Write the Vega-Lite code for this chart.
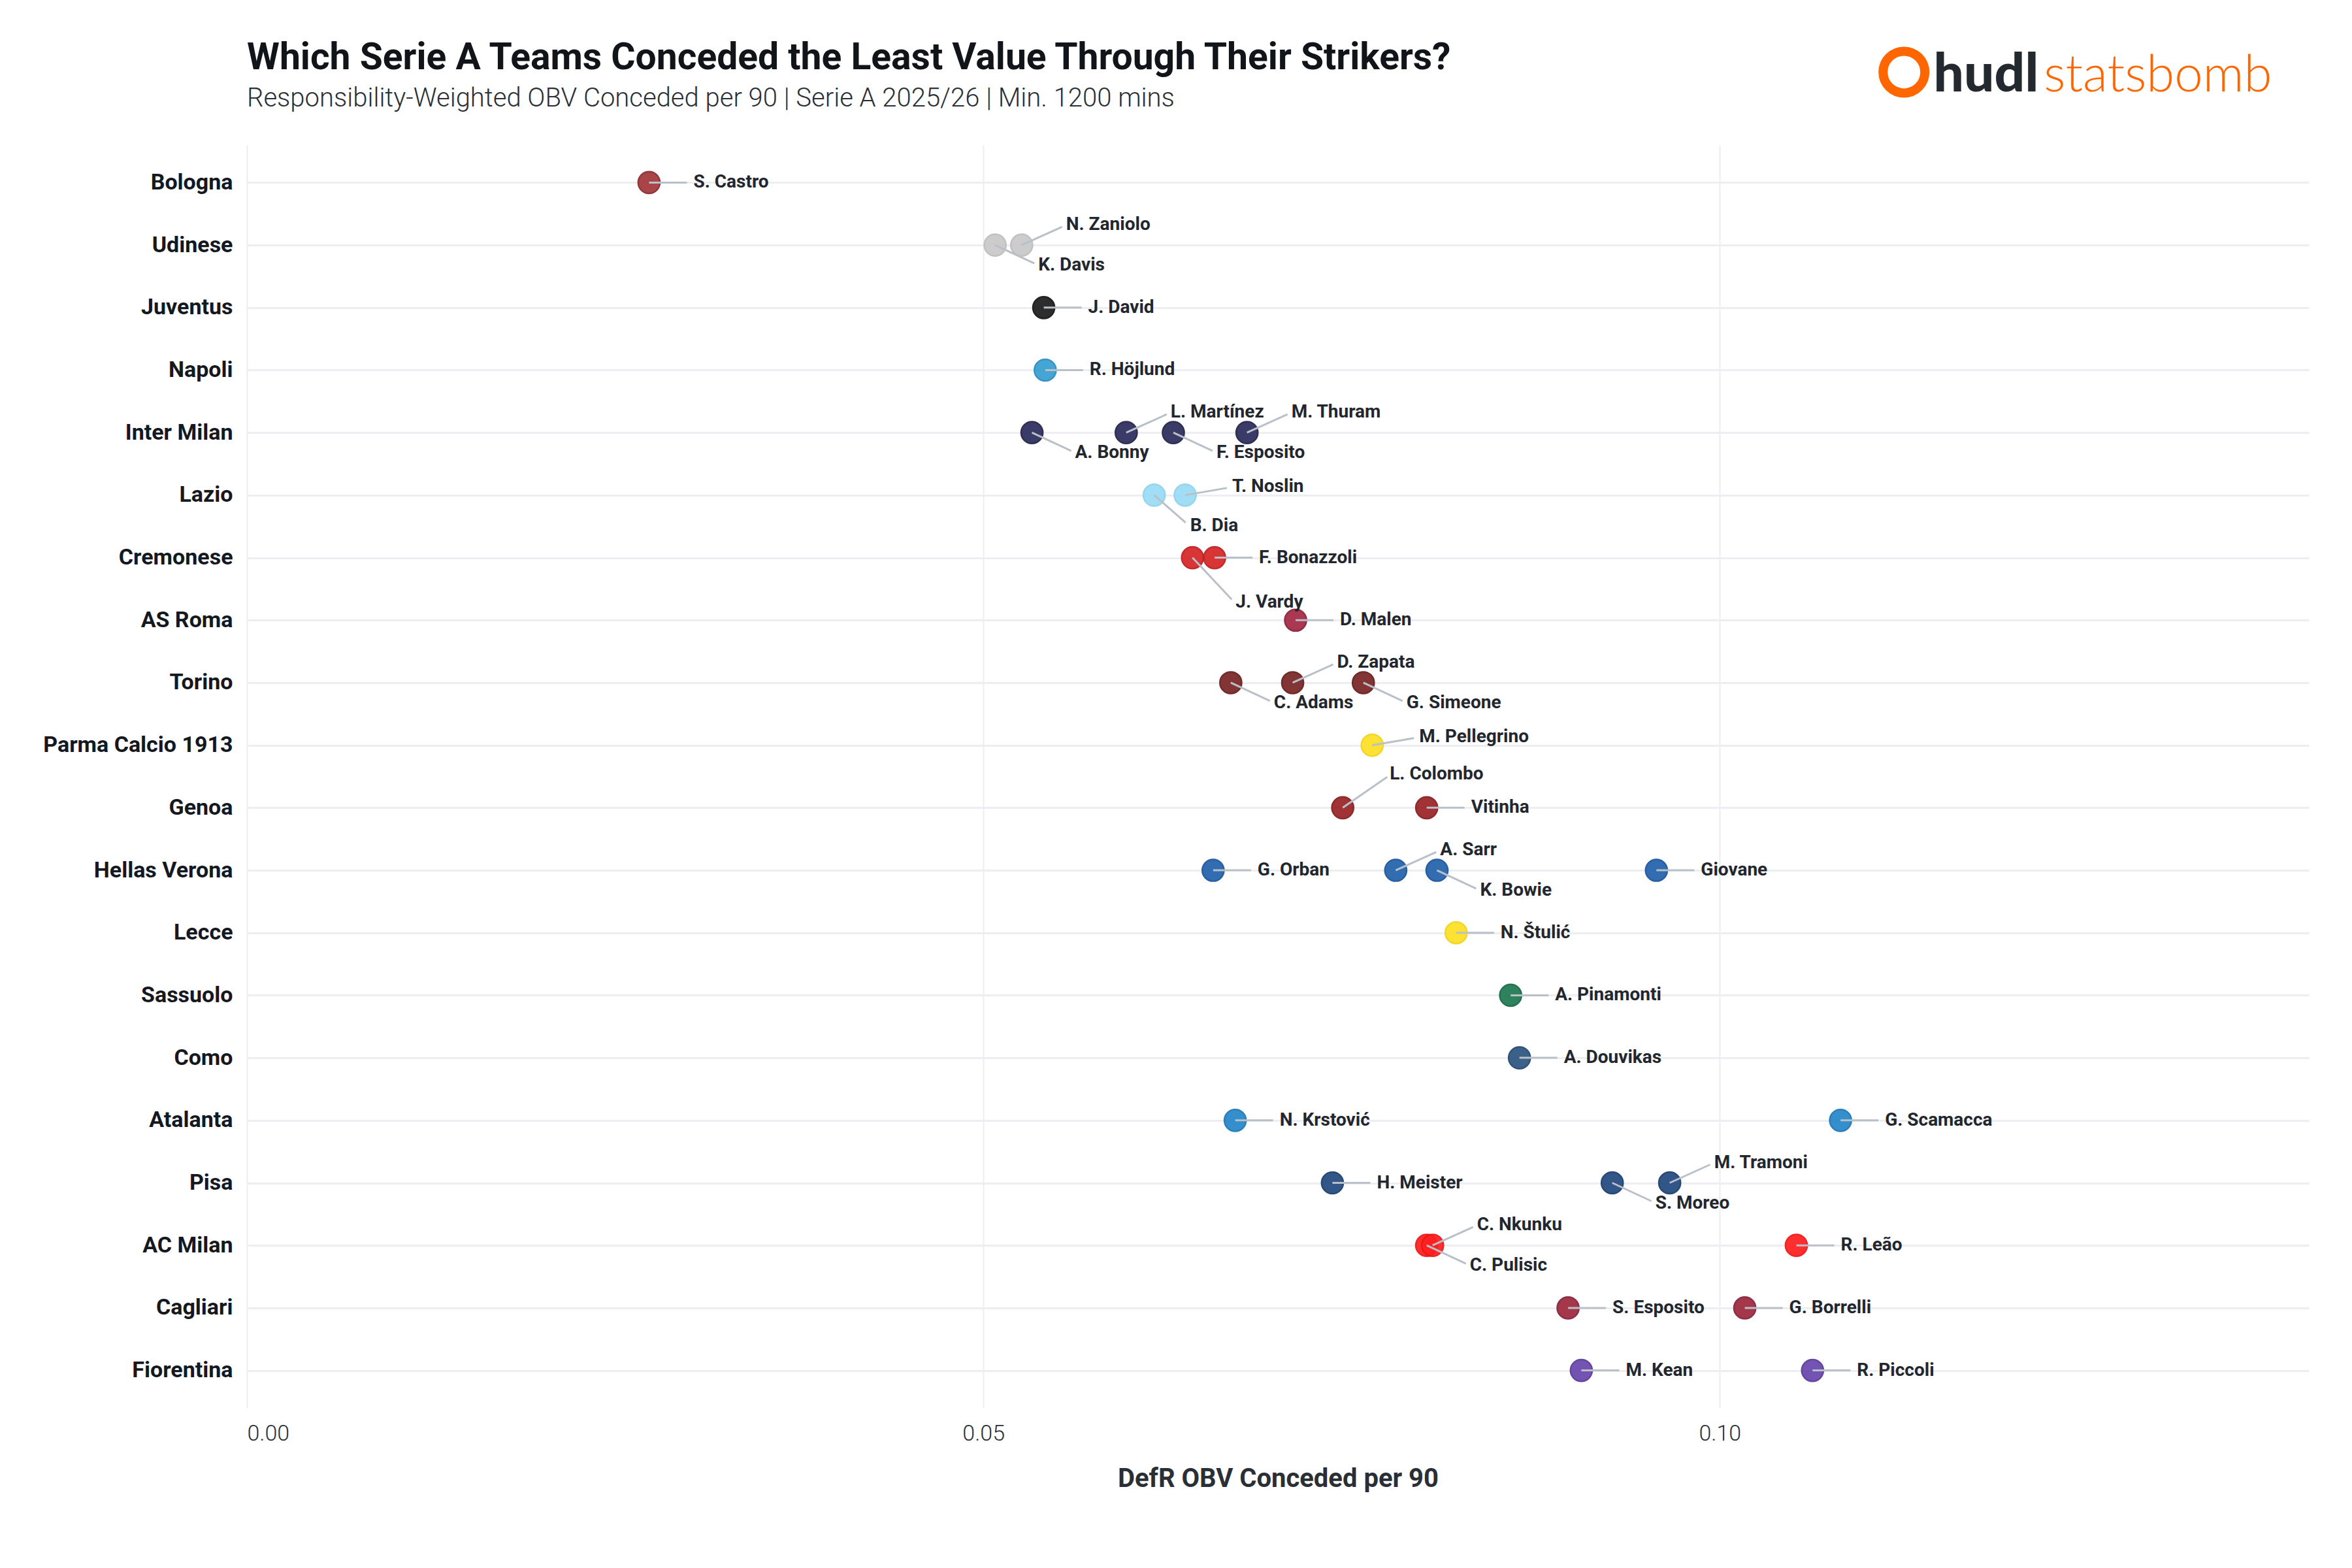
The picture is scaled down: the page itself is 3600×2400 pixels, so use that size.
{
  "$schema": "https://vega.github.io/schema/vega-lite/v6.json",
  "width": 3156,
  "height": 1933,
  "autosize": "none",
  "padding": {"left": 378, "top": 222, "right": 66, "bottom": 245},
  "background": "white",
  "title": {
    "text": "Which Serie A Teams Conceded the Least Value Through Their Strikers?",
    "subtitle": "Responsibility-Weighted OBV Conceded per 90 | Serie A 2025/26 | Min. 1200 mins",
    "anchor": "start",
    "frame": "group",
    "font": "Roboto",
    "fontSize": 57,
    "fontWeight": 700,
    "color": "#111418",
    "subtitleFont": "Roboto",
    "subtitleFontSize": 40,
    "subtitleFontWeight": 300,
    "subtitleColor": "#2a2f36",
    "subtitlePadding": 13,
    "offset": -122
  },
  "datasets": {
    "strikers": [
      {"team": "Bologna", "player": "S. Castro", "value": 0.0273, "pos": "right"},
      {"team": "Udinese", "player": "K. Davis", "value": 0.0508, "pos": "down"},
      {"team": "Udinese", "player": "N. Zaniolo", "value": 0.0526, "pos": "up"},
      {"team": "Juventus", "player": "J. David", "value": 0.0541, "pos": "right"},
      {"team": "Napoli", "player": "R. Höjlund", "value": 0.0542, "pos": "right"},
      {"team": "Inter Milan", "player": "A. Bonny", "value": 0.0533, "pos": "down"},
      {"team": "Inter Milan", "player": "L. Martínez", "value": 0.0597, "pos": "up"},
      {"team": "Inter Milan", "player": "F. Esposito", "value": 0.0629, "pos": "down"},
      {"team": "Inter Milan", "player": "M. Thuram", "value": 0.0679, "pos": "up"},
      {"team": "Lazio", "player": "B. Dia", "value": 0.0616, "pos": "downmid"},
      {"team": "Lazio", "player": "T. Noslin", "value": 0.0637, "pos": "upslight"},
      {"team": "Cremonese", "player": "J. Vardy", "value": 0.0642, "pos": "downfar"},
      {"team": "Cremonese", "player": "F. Bonazzoli", "value": 0.0657, "pos": "right"},
      {"team": "AS Roma", "player": "D. Malen", "value": 0.0712, "pos": "right"},
      {"team": "Torino", "player": "C. Adams", "value": 0.0668, "pos": "down"},
      {"team": "Torino", "player": "D. Zapata", "value": 0.0710, "pos": "up"},
      {"team": "Torino", "player": "G. Simeone", "value": 0.0758, "pos": "down"},
      {"team": "Parma Calcio 1913", "player": "M. Pellegrino", "value": 0.0764, "pos": "upslight"},
      {"team": "Genoa", "player": "L. Colombo", "value": 0.0744, "pos": "upfar"},
      {"team": "Genoa", "player": "Vitinha", "value": 0.0801, "pos": "right"},
      {"team": "Hellas Verona", "player": "G. Orban", "value": 0.0656, "pos": "right"},
      {"team": "Hellas Verona", "player": "A. Sarr", "value": 0.0780, "pos": "up"},
      {"team": "Hellas Verona", "player": "K. Bowie", "value": 0.0808, "pos": "down"},
      {"team": "Hellas Verona", "player": "Giovane", "value": 0.0957, "pos": "right"},
      {"team": "Lecce", "player": "N. Štulić", "value": 0.0821, "pos": "right"},
      {"team": "Sassuolo", "player": "A. Pinamonti", "value": 0.0858, "pos": "right"},
      {"team": "Como", "player": "A. Douvikas", "value": 0.0864, "pos": "right"},
      {"team": "Atalanta", "player": "N. Krstović", "value": 0.0671, "pos": "right"},
      {"team": "Atalanta", "player": "G. Scamacca", "value": 0.1082, "pos": "right"},
      {"team": "Pisa", "player": "H. Meister", "value": 0.0737, "pos": "right"},
      {"team": "Pisa", "player": "S. Moreo", "value": 0.0927, "pos": "down"},
      {"team": "Pisa", "player": "M. Tramoni", "value": 0.0966, "pos": "up"},
      {"team": "AC Milan", "player": "C. Pulisic", "value": 0.0801, "pos": "down"},
      {"team": "AC Milan", "player": "C. Nkunku", "value": 0.0805, "pos": "up"},
      {"team": "AC Milan", "player": "R. Leão", "value": 0.1052, "pos": "right"},
      {"team": "Cagliari", "player": "S. Esposito", "value": 0.0897, "pos": "right"},
      {"team": "Cagliari", "player": "G. Borrelli", "value": 0.1017, "pos": "right"},
      {"team": "Fiorentina", "player": "M. Kean", "value": 0.0906, "pos": "right"},
      {"team": "Fiorentina", "player": "R. Piccoli", "value": 0.1063, "pos": "right"}
    ],
    "logo": [
      {"part": "hudl", "team": "Bologna"},
      {"part": "statsbomb", "team": "Bologna"}
    ]
  },
  "layer": [
    {
      "data": {"name": "strikers"},
      "encoding": {
        "x": {
          "field": "value",
          "type": "quantitative",
          "scale": {"domain": [0, 0.14], "nice": false, "zero": false},
          "axis": {
            "title": "DefR OBV Conceded per 90",
            "values": [0, 0.05, 0.1],
            "format": ".2f",
            "domain": false,
            "ticks": false,
            "grid": true,
            "gridColor": "#eceef1",
            "gridWidth": 2,
            "labelFont": "Roboto",
            "labelFontSize": 34,
            "labelFontWeight": 300,
            "labelColor": "#2a2f36",
            "labelPadding": 22,
            "titleFont": "Roboto",
            "titleFontSize": 40,
            "titleFontWeight": 700,
            "titleColor": "#2a2f36",
            "titlePadding": 32
          }
        },
        "y": {
          "field": "team",
          "type": "nominal",
          "scale": {
            "type": "point",
            "padding": 0.6,
            "domain": ["Bologna", "Udinese", "Juventus", "Napoli", "Inter Milan", "Lazio", "Cremonese", "AS Roma", "Torino", "Parma Calcio 1913", "Genoa", "Hellas Verona", "Lecce", "Sassuolo", "Como", "Atalanta", "Pisa", "AC Milan", "Cagliari", "Fiorentina"]
          },
          "axis": {
            "title": null,
            "domain": false,
            "ticks": false,
            "grid": true,
            "gridColor": "#eceef1",
            "gridWidth": 3,
            "labelFont": "Roboto",
            "labelFontSize": 34,
            "labelFontWeight": 700,
            "labelColor": "#14181f",
            "labelPadding": 22,
            "labelLimit": 600
          }
        }
      },
      "layer": [
        {
          "mark": {"type": "point", "filled": true, "shape": "circle", "size": 1100, "strokeWidth": 2.5, "opacity": 0.93},
          "encoding": {
            "fill": {
              "field": "team",
              "type": "nominal",
              "legend": null,
              "scale": {
                "domain": ["Bologna", "Udinese", "Juventus", "Napoli", "Inter Milan", "Lazio", "Cremonese", "AS Roma", "Torino", "Parma Calcio 1913", "Genoa", "Hellas Verona", "Lecce", "Sassuolo", "Como", "Atalanta", "Pisa", "AC Milan", "Cagliari", "Fiorentina"],
                "range": ["#a3383b", "#c9c9c9", "#1e1e1e", "#379fd1", "#2d2d5c", "#9adcf6", "#d62628", "#a52a45", "#7a2626", "#fee024", "#9a2327", "#2363ad", "#fee024", "#1f7a50", "#2d5680", "#2587c9", "#234a7e", "#ff2020", "#9e2a3d", "#6a48ad"]
              }
            },
            "stroke": {
              "field": "team",
              "type": "nominal",
              "legend": null,
              "scale": {
                "domain": ["Bologna", "Udinese", "Juventus", "Napoli", "Inter Milan", "Lazio", "Cremonese", "AS Roma", "Torino", "Parma Calcio 1913", "Genoa", "Hellas Verona", "Lecce", "Sassuolo", "Como", "Atalanta", "Pisa", "AC Milan", "Cagliari", "Fiorentina"],
                "range": ["#8a2a2e", "#bdbdbd", "#111111", "#2a8cc0", "#20204a", "#8dd2ee", "#c01c1e", "#8f1e37", "#661c1c", "#f2d41a", "#851b1f", "#1a539a", "#f2d41a", "#176644", "#224770", "#1b76b6", "#1a3d6c", "#ee1414", "#86203a", "#5a3a98"]
              }
            }
          }
        },
        {
          "transform": [{"filter": "datum.pos === 'right'"}],
          "mark": {"type": "rule", "color": "#b9c0c8", "strokeWidth": 3, "x2Offset": 58},
          "encoding": {"x2": {"field": "value"}, "y2": {"field": "team"}}
        },
        {
          "transform": [{"filter": "datum.pos === 'right'"}],
          "mark": {"type": "text", "align": "left", "baseline": "middle", "dx": 68, "font": "Roboto", "fontSize": 28, "fontWeight": 700, "color": "#22262e"},
          "encoding": {"text": {"field": "player"}}
        },
        {
          "transform": [{"filter": "datum.pos === 'up'"}],
          "mark": {"type": "rule", "color": "#b9c0c8", "strokeWidth": 3, "x2Offset": 62, "y2Offset": -28},
          "encoding": {"x2": {"field": "value"}, "y2": {"field": "team"}}
        },
        {
          "transform": [{"filter": "datum.pos === 'up'"}],
          "mark": {"type": "text", "align": "left", "baseline": "middle", "dx": 68, "dy": -31, "font": "Roboto", "fontSize": 28, "fontWeight": 700, "color": "#22262e"},
          "encoding": {"text": {"field": "player"}}
        },
        {
          "transform": [{"filter": "datum.pos === 'down'"}],
          "mark": {"type": "rule", "color": "#b9c0c8", "strokeWidth": 3, "x2Offset": 60, "y2Offset": 28},
          "encoding": {"x2": {"field": "value"}, "y2": {"field": "team"}}
        },
        {
          "transform": [{"filter": "datum.pos === 'down'"}],
          "mark": {"type": "text", "align": "left", "baseline": "middle", "dx": 66, "dy": 31, "font": "Roboto", "fontSize": 28, "fontWeight": 700, "color": "#22262e"},
          "encoding": {"text": {"field": "player"}}
        },
        {
          "transform": [{"filter": "datum.pos === 'upslight'"}],
          "mark": {"type": "rule", "color": "#b9c0c8", "strokeWidth": 3, "x2Offset": 64, "y2Offset": -11},
          "encoding": {"x2": {"field": "value"}, "y2": {"field": "team"}}
        },
        {
          "transform": [{"filter": "datum.pos === 'upslight'"}],
          "mark": {"type": "text", "align": "left", "baseline": "middle", "dx": 72, "dy": -13, "font": "Roboto", "fontSize": 28, "fontWeight": 700, "color": "#22262e"},
          "encoding": {"text": {"field": "player"}}
        },
        {
          "transform": [{"filter": "datum.pos === 'upfar'"}],
          "mark": {"type": "rule", "color": "#b9c0c8", "strokeWidth": 3, "x2Offset": 68, "y2Offset": -47},
          "encoding": {"x2": {"field": "value"}, "y2": {"field": "team"}}
        },
        {
          "transform": [{"filter": "datum.pos === 'upfar'"}],
          "mark": {"type": "text", "align": "left", "baseline": "middle", "dx": 72, "dy": -51, "font": "Roboto", "fontSize": 28, "fontWeight": 700, "color": "#22262e"},
          "encoding": {"text": {"field": "player"}}
        },
        {
          "transform": [{"filter": "datum.pos === 'downmid'"}],
          "mark": {"type": "rule", "color": "#b9c0c8", "strokeWidth": 3, "x2Offset": 48, "y2Offset": 42},
          "encoding": {"x2": {"field": "value"}, "y2": {"field": "team"}}
        },
        {
          "transform": [{"filter": "datum.pos === 'downmid'"}],
          "mark": {"type": "text", "align": "left", "baseline": "middle", "dx": 55, "dy": 47, "font": "Roboto", "fontSize": 28, "fontWeight": 700, "color": "#22262e"},
          "encoding": {"text": {"field": "player"}}
        },
        {
          "transform": [{"filter": "datum.pos === 'downfar'"}],
          "mark": {"type": "rule", "color": "#b9c0c8", "strokeWidth": 3, "x2Offset": 60, "y2Offset": 64},
          "encoding": {"x2": {"field": "value"}, "y2": {"field": "team"}}
        },
        {
          "transform": [{"filter": "datum.pos === 'downfar'"}],
          "mark": {"type": "text", "align": "left", "baseline": "middle", "dx": 66, "dy": 68, "font": "Roboto", "fontSize": 28, "fontWeight": 700, "color": "#22262e"},
          "encoding": {"text": {"field": "player"}}
        }
      ]
    },
    {
      "data": {"name": "logo"},
      "transform": [{"filter": "datum.part === 'hudl'"}],
      "mark": {"type": "point", "shape": "circle", "filled": false, "size": 4096, "strokeWidth": 14, "color": "#ff6600", "opacity": 1, "xOffset": -214, "yOffset": -169},
      "encoding": {"x": {"datum": 0.122, "type": "quantitative"}, "y": {"field": "team", "type": "nominal"}}
    },
    {
      "data": {"name": "logo"},
      "transform": [{"filter": "datum.part === 'hudl'"}],
      "mark": {"type": "text", "align": "right", "baseline": "alphabetic", "dx": -8, "dy": -139, "font": "Lato", "fontSize": 82, "fontWeight": 900, "color": "#23292f"},
      "encoding": {"x": {"datum": 0.122, "type": "quantitative"}, "y": {"field": "team", "type": "nominal"}, "text": {"field": "part", "type": "nominal"}}
    },
    {
      "data": {"name": "logo"},
      "transform": [{"filter": "datum.part === 'statsbomb'"}],
      "mark": {"type": "text", "align": "left", "baseline": "alphabetic", "dy": -139, "font": "Lato", "fontSize": 78, "fontWeight": 300, "color": "#ff6600"},
      "encoding": {"x": {"datum": 0.122, "type": "quantitative"}, "y": {"field": "team", "type": "nominal"}, "text": {"field": "part", "type": "nominal"}}
    }
  ],
  "config": {
    "view": {"stroke": null},
    "font": "Roboto"
  }
}
